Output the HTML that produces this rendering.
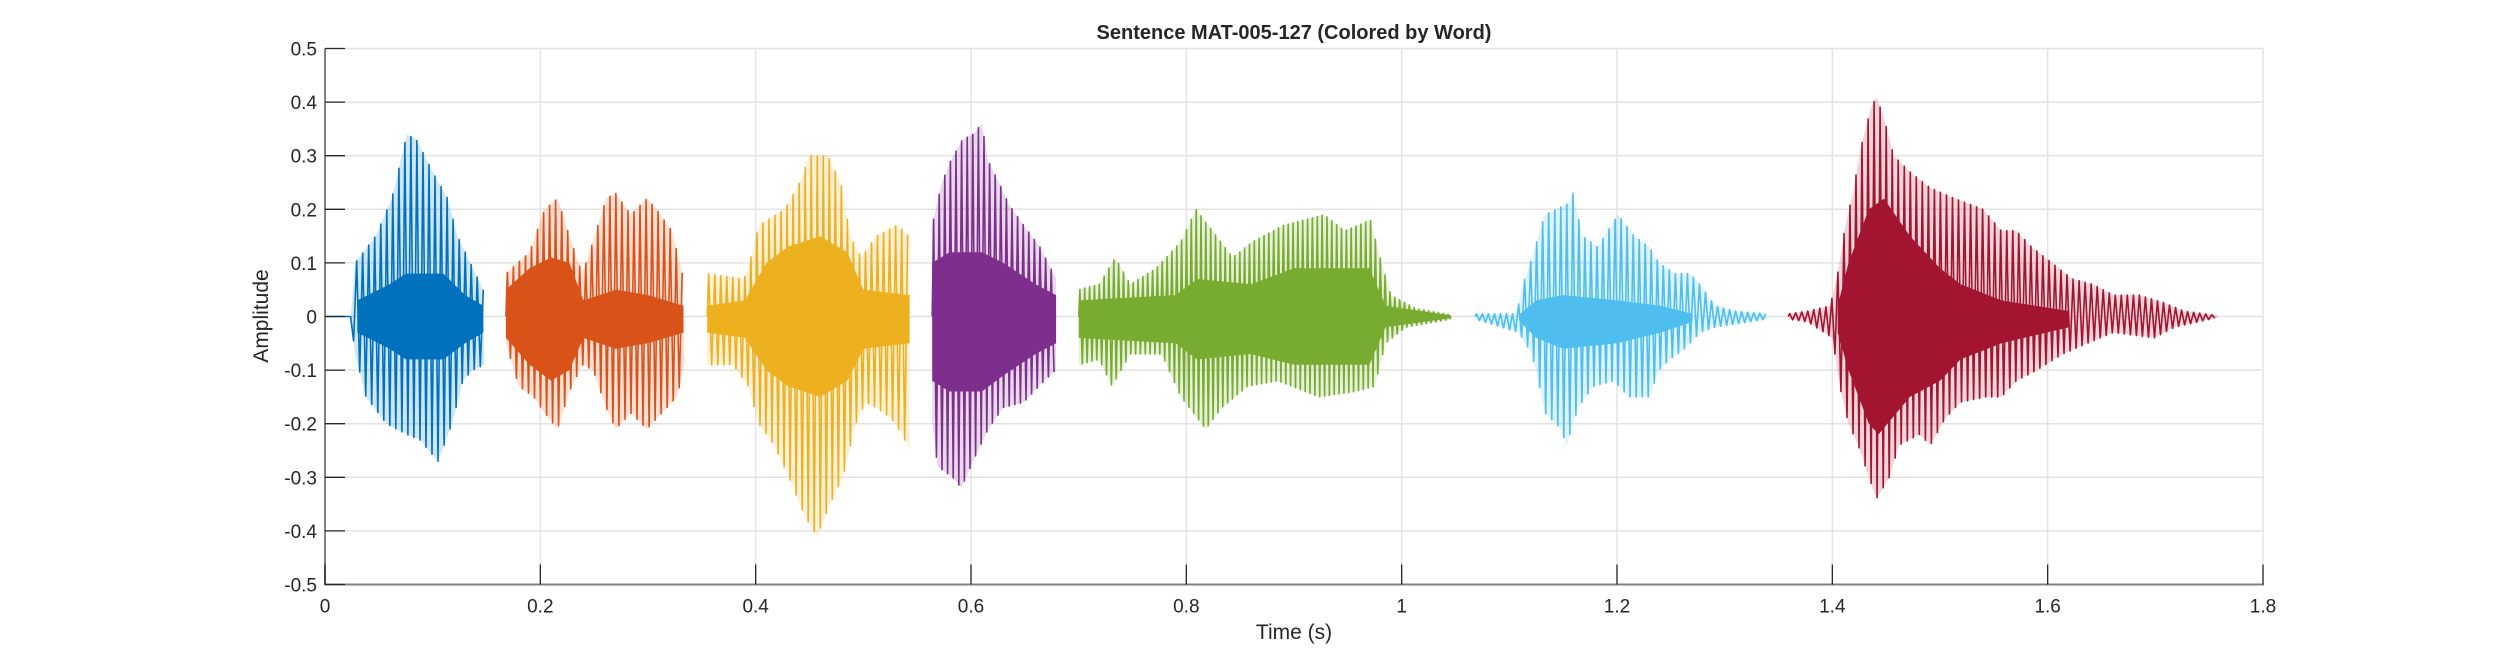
<!DOCTYPE html>
<html><head><meta charset="utf-8"><style>
html,body{margin:0;padding:0;background:#fff;}
svg{display:block;font-family:"Liberation Sans",Arial,sans-serif;}
</style></head><body>
<svg id="chart" width="2500" height="657" viewBox="0 0 2500 657" xmlns="http://www.w3.org/2000/svg">
<rect width="2500" height="657" fill="#fff"/>
<g id="grid"></g>
<g id="marks"></g>
<g id="axes"></g>
<text x="1294" y="39" text-anchor="middle" font-size="20" font-weight="bold" fill="#262626">Sentence MAT-005-127 (Colored by Word)</text>
<text x="1294" y="639" text-anchor="middle" font-size="21" fill="#262626">Time (s)</text>
<text x="0" y="0" transform="translate(268,316) rotate(-90)" text-anchor="middle" font-size="21" fill="#262626">Amplitude</text>
</svg>
<script>
const xTicks = [0,0.2,0.4,0.6,0.8,1,1.2,1.4,1.6,1.8];
const xTickLabels = ["0","0.2","0.4","0.6","0.8","1","1.2","1.4","1.6","1.8"];
const yTicks = [-0.5,-0.4,-0.3,-0.2,-0.1,0,0.1,0.2,0.3,0.4,0.5];
const yTickLabels = ["-0.5","-0.4","-0.3","-0.2","-0.1","0","0.1","0.2","0.3","0.4","0.5"];
const wordNames = ["word-1","word-2","word-3","word-4","word-5","word-6","word-7"];
const wordColors = ["#0072BD","#D95319","#EDB120","#7E2F8E","#77AC30","#4DBEEE","#A2142F"];
const pitchPeriods = [0.0056,0.0056,0.0056,0.0052,0.0045,0.0056,0.0056];

const w1Upper = [[0,0],[0.024,0],[0.028,0.1],[0.047,0.15],[0.062,0.22],[0.076,0.34],[0.085,0.33],[0.1,0.27],[0.114,0.22],[0.123,0.15],[0.135,0.1],[0.147,0.05]];
const w1Lower = [[0,0],[0.024,0],[0.028,-0.07],[0.038,-0.15],[0.057,-0.2],[0.076,-0.22],[0.088,-0.23],[0.105,-0.27],[0.118,-0.2],[0.128,-0.12],[0.137,-0.1],[0.148,-0.09]];
const w1CoreUp = [[0.03,0.03],[0.06,0.06],[0.075,0.08],[0.11,0.08],[0.13,0.04],[0.147,0.02]];
const w1CoreLo = [[0.03,-0.03],[0.06,-0.06],[0.075,-0.08],[0.11,-0.08],[0.13,-0.05],[0.147,-0.03]];

const w2Upper = [[0.168,0.08],[0.19,0.12],[0.204,0.2],[0.216,0.22],[0.227,0.15],[0.239,0.08],[0.249,0.14],[0.261,0.22],[0.27,0.23],[0.284,0.19],[0.299,0.22],[0.308,0.2],[0.322,0.16],[0.332,0.08]];
const w2Lower = [[0.168,-0.05],[0.18,-0.13],[0.194,-0.15],[0.204,-0.18],[0.216,-0.21],[0.227,-0.14],[0.239,-0.09],[0.249,-0.1],[0.261,-0.17],[0.27,-0.21],[0.284,-0.18],[0.299,-0.21],[0.313,-0.18],[0.327,-0.15],[0.334,-0.09]];
const w2CoreUp = [[0.168,0.05],[0.19,0.09],[0.21,0.11],[0.227,0.1],[0.24,0.03],[0.27,0.05],[0.3,0.04],[0.333,0.02]];
const w2CoreLo = [[0.168,-0.04],[0.19,-0.09],[0.21,-0.12],[0.227,-0.1],[0.24,-0.04],[0.27,-0.06],[0.3,-0.05],[0.333,-0.03]];

const w3Upper = [[0.355,0.08],[0.389,0.07],[0.393,0.09],[0.403,0.17],[0.427,0.2],[0.441,0.25],[0.45,0.3],[0.467,0.3],[0.479,0.25],[0.488,0.15],[0.498,0.11],[0.512,0.15],[0.531,0.17],[0.543,0.15]];
const w3Lower = [[0.355,-0.09],[0.379,-0.09],[0.393,-0.13],[0.403,-0.2],[0.417,-0.24],[0.431,-0.3],[0.445,-0.37],[0.457,-0.41],[0.469,-0.35],[0.481,-0.3],[0.493,-0.2],[0.502,-0.16],[0.512,-0.17],[0.526,-0.19],[0.536,-0.22],[0.543,-0.25]];
const w3CoreUp = [[0.355,0.02],[0.39,0.03],[0.41,0.1],[0.43,0.13],[0.46,0.15],[0.485,0.12],[0.5,0.05],[0.543,0.04]];
const w3CoreLo = [[0.355,-0.03],[0.39,-0.04],[0.41,-0.1],[0.43,-0.13],[0.46,-0.15],[0.485,-0.12],[0.5,-0.06],[0.543,-0.05]];

const w4Upper = [[0.564,0.17],[0.573,0.25],[0.581,0.29],[0.592,0.33],[0.602,0.34],[0.61,0.36],[0.616,0.29],[0.626,0.25],[0.635,0.21],[0.649,0.17],[0.664,0.13],[0.679,0.07]];
const w4Lower = [[0.564,-0.2],[0.569,-0.28],[0.583,-0.3],[0.591,-0.32],[0.602,-0.27],[0.616,-0.21],[0.63,-0.17],[0.649,-0.16],[0.668,-0.12],[0.679,-0.1]];
const w4CoreUp = [[0.564,0.1],[0.58,0.12],[0.61,0.12],[0.63,0.1],[0.66,0.06],[0.679,0.04]];
const w4CoreLo = [[0.564,-0.12],[0.58,-0.14],[0.61,-0.14],[0.63,-0.11],[0.66,-0.07],[0.679,-0.05]];

const w5Upper = [[0.7,0.05],[0.719,0.06],[0.734,0.11],[0.748,0.06],[0.772,0.09],[0.795,0.14],[0.809,0.2],[0.828,0.15],[0.843,0.11],[0.862,0.14],[0.89,0.17],[0.928,0.19],[0.947,0.16],[0.971,0.18],[0.98,0.11],[0.99,0.04],[1.013,0.015],[1.046,0.003]];
const w5Lower = [[0.7,-0.09],[0.719,-0.08],[0.731,-0.13],[0.748,-0.07],[0.777,-0.07],[0.795,-0.15],[0.818,-0.21],[0.833,-0.17],[0.857,-0.13],[0.885,-0.12],[0.923,-0.15],[0.957,-0.14],[0.975,-0.13],[0.985,-0.05],[1.004,-0.02],[1.046,-0.005]];
const w5CoreUp = [[0.7,0.03],[0.79,0.04],[0.81,0.07],[0.86,0.06],[0.9,0.09],[0.97,0.09],[0.985,0.02],[1.046,0.002]];
const w5CoreLo = [[0.7,-0.04],[0.79,-0.05],[0.81,-0.08],[0.86,-0.07],[0.9,-0.09],[0.97,-0.09],[0.985,-0.02],[1.046,-0.003]];

const w6Upper = [[1.068,0.005],[1.107,0.005],[1.111,0.05],[1.121,0.11],[1.133,0.19],[1.154,0.21],[1.159,0.23],[1.168,0.15],[1.182,0.13],[1.201,0.19],[1.216,0.15],[1.23,0.13],[1.239,0.1],[1.254,0.08],[1.268,0.08],[1.277,0.06],[1.291,0.02],[1.31,0.01],[1.339,0.005]];
const w6Lower = [[1.068,-0.005],[1.109,-0.03],[1.121,-0.07],[1.128,-0.13],[1.133,-0.18],[1.148,-0.21],[1.153,-0.24],[1.164,-0.17],[1.178,-0.13],[1.197,-0.12],[1.211,-0.15],[1.23,-0.15],[1.239,-0.1],[1.249,-0.08],[1.263,-0.06],[1.277,-0.03],[1.291,-0.02],[1.339,-0.005]];
const w6CoreUp = [[1.11,0.005],[1.125,0.03],[1.15,0.04],[1.2,0.03],[1.24,0.02],[1.27,0.005]];
const w6CoreLo = [[1.11,-0.01],[1.125,-0.04],[1.15,-0.06],[1.2,-0.05],[1.24,-0.03],[1.27,-0.01]];

const w7Upper = [[1.359,0.005],[1.377,0.01],[1.398,0.02],[1.405,0.08],[1.412,0.17],[1.419,0.23],[1.427,0.32],[1.436,0.39],[1.441,0.41],[1.448,0.37],[1.457,0.3],[1.472,0.27],[1.491,0.24],[1.514,0.22],[1.54,0.2],[1.557,0.16],[1.571,0.16],[1.585,0.13],[1.604,0.1],[1.623,0.07],[1.642,0.06],[1.661,0.04],[1.685,0.04],[1.709,0.025],[1.727,0.01],[1.758,0.002]];
const w7Lower = [[1.359,-0.005],[1.377,-0.01],[1.4,-0.04],[1.408,-0.14],[1.415,-0.2],[1.424,-0.24],[1.434,-0.3],[1.441,-0.34],[1.453,-0.3],[1.462,-0.24],[1.481,-0.22],[1.491,-0.24],[1.505,-0.19],[1.519,-0.16],[1.543,-0.15],[1.557,-0.15],[1.571,-0.12],[1.59,-0.1],[1.614,-0.07],[1.637,-0.05],[1.661,-0.03],[1.699,-0.04],[1.718,-0.02],[1.758,-0.002]];
const w7CoreUp = [[1.405,0.02],[1.415,0.1],[1.434,0.2],[1.448,0.22],[1.472,0.15],[1.5,0.09],[1.519,0.06],[1.557,0.03],[1.62,0.01]];
const w7CoreLo = [[1.405,-0.03],[1.415,-0.1],[1.434,-0.2],[1.443,-0.22],[1.472,-0.15],[1.5,-0.12],[1.519,-0.08],[1.557,-0.05],[1.62,-0.02]];

const uppers = [w1Upper,w2Upper,w3Upper,w4Upper,w5Upper,w6Upper,w7Upper];
const lowers = [w1Lower,w2Lower,w3Lower,w4Lower,w5Lower,w6Lower,w7Lower];
const coreUps = [w1CoreUp,w2CoreUp,w3CoreUp,w4CoreUp,w5CoreUp,w6CoreUp,w7CoreUp];
const coreLos = [w1CoreLo,w2CoreLo,w3CoreLo,w4CoreLo,w5CoreLo,w6CoreLo,w7CoreLo];

const L=325,R=2263,T=48.5,B=584.5;
const xMin=0,xMax=1.8,yMin=-0.5,yMax=0.5;
function sx(t){return L+(t-xMin)/(xMax-xMin)*(R-L);}
function sy(a){return B-(a-yMin)/(yMax-yMin)*(B-T);}
function envAt(arr,t){
  if(t<=arr[0][0])return arr[0][1];
  for(let i=1;i<arr.length;i++){
    if(t<=arr[i][0]){const a=arr[i-1],b=arr[i];return a[1]+(b[1]-a[1])*(t-a[0])/(b[0]-a[0]);}
  }
  return arr[arr.length-1][1];
}
const NS="http://www.w3.org/2000/svg";
function mk(tag,parent){const e=document.createElementNS(NS,tag);parent.appendChild(e);return e;}

const grid=document.getElementById('grid');
xTicks.forEach((t,i)=>{
  const l=mk('line',grid);
  
  
  l.setAttribute('x1',sx(t));l.setAttribute('x2',sx(t));l.setAttribute('y1',T);l.setAttribute('y2',B);
  l.setAttribute('stroke','#e3e3e3');l.setAttribute('stroke-width','1.5');
});
yTicks.forEach((v,i)=>{
  const l=mk('line',grid);
  
  
  l.setAttribute('x1',L);l.setAttribute('x2',R);l.setAttribute('y1',sy(v));l.setAttribute('y2',sy(v));
  l.setAttribute('stroke','#e3e3e3');l.setAttribute('stroke-width','1.5');
});

const marks=document.getElementById('marks');
function envPath(up,lo){
  let d='';
  up.forEach((p,i)=>{d+=(i?'L':'M')+sx(p[0]).toFixed(1)+','+sy(p[1]).toFixed(1);});
  for(let i=lo.length-1;i>=0;i--){d+='L'+sx(lo[i][0]).toFixed(1)+','+sy(lo[i][1]).toFixed(1);}
  return d+'Z';
}
for(let w=0;w<uppers.length;w++){
  const up=uppers[w],lo=lowers[w];
  const g=mk('g',marks);
  
  
  const outer=mk('path',g);
  
  
  outer.setAttribute('d',envPath(up,lo));
  outer.setAttribute('fill',wordColors[w]);outer.setAttribute('fill-opacity','0.18');
  outer.setAttribute('stroke','none');
  // oscillating trace bounded by the envelope
  const t0=Math.max(up[0][0],lo[0][0]);
  const t1=Math.min(up[up.length-1][0],lo[lo.length-1][0]);
  const per=pitchPeriods[w];
  let d='M'+sx(t0).toFixed(1)+','+sy(0).toFixed(1);
  for(let t=t0;t<=t1;t+=per){
    const tu=t+per*0.25, tl=t+per*0.75;
    if(tu<=t1)d+='L'+sx(tu).toFixed(1)+','+sy(envAt(up,tu)).toFixed(1);
    if(tl<=t1)d+='L'+sx(tl).toFixed(1)+','+sy(envAt(lo,tl)).toFixed(1);
  }
  const wave=mk('path',g);
  
  
  wave.setAttribute('d',d);
  wave.setAttribute('fill','none');wave.setAttribute('stroke',wordColors[w]);
  wave.setAttribute('stroke-width','1.6');wave.setAttribute('stroke-linejoin','round');
  const core=mk('path',g);
  
  
  core.setAttribute('d',envPath(coreUps[w],coreLos[w]));
  core.setAttribute('fill',wordColors[w]);
}

const axes=document.getElementById('axes');
function line(x1,y1,x2,y2,c,w,name){
  const l=mk('line',axes);
  
  
  l.setAttribute('x1',x1);l.setAttribute('y1',y1);l.setAttribute('x2',x2);l.setAttribute('y2',y2);
  l.setAttribute('stroke',c);l.setAttribute('stroke-width',w);
}
line(L,T,L,B+1,'#808080',2,'y-axis-line');
line(L-1,B,R+1,B,'#808080',2,'x-axis-line');
xTicks.forEach((t,i)=>{
  line(sx(t),B,sx(t),B-20,'#262626',1.3,'x-tick');
  const tx=mk('text',axes);
  
  
  tx.setAttribute('x',sx(t));tx.setAttribute('y',B+28);
  tx.setAttribute('text-anchor','middle');tx.setAttribute('font-size','19');tx.setAttribute('fill','#262626');
  tx.textContent=xTickLabels[i];
});
yTicks.forEach((v,i)=>{
  line(L,sy(v),L+20,sy(v),'#262626',1.3,'y-tick');
  const tx=mk('text',axes);
  
  
  tx.setAttribute('x',L-8);tx.setAttribute('y',sy(v)+7);
  tx.setAttribute('text-anchor','end');tx.setAttribute('font-size','19');tx.setAttribute('fill','#262626');
  tx.textContent=yTickLabels[i];
});
</script>
</body></html>
